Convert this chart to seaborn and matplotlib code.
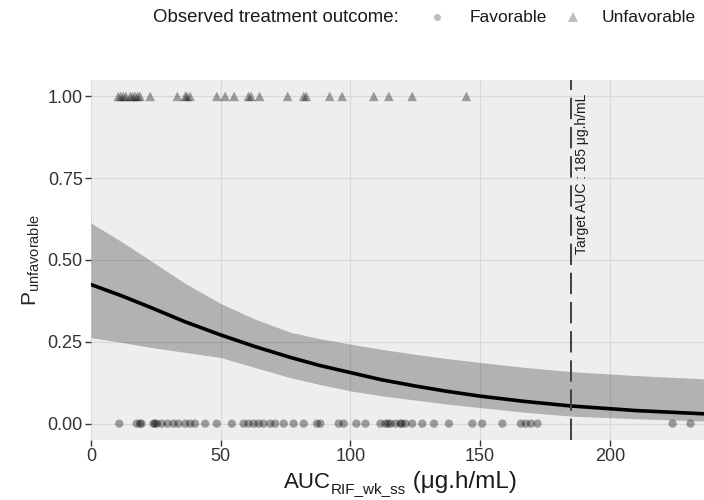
import numpy as np
import pandas as pd
import matplotlib
matplotlib.use("Agg")
import matplotlib.pyplot as plt
from matplotlib.lines import Line2D
import seaborn as sns

# Observed rifampicin exposure (AUC, µg.h/mL) per patient, by outcome
auc_favorable = [10.9, 17.6, 18.9, 19.5, 24.1, 24.6, 25.4, 27.3, 29.5, 31.8,
                 33.7, 36.3, 38.2, 40.1, 44.0, 48.5, 54.3, 58.8, 60.7, 62.7,
                 64.6, 66.5, 69.1, 71.0, 74.3, 78.1, 82.0, 87.1, 88.4, 95.5,
                 97.4, 102.3, 105.8, 111.6, 113.5, 114.5, 115.4, 117.4, 119.3,
                 119.8, 121.2, 123.8, 127.7, 132.2, 138.0, 147.0, 150.8, 158.6,
                 165.7, 167.6, 169.6, 172.1, 224.2, 231.1]
auc_unfavorable = [10.5, 11.5, 12.5, 13.5, 15.1, 16.0, 17.0, 18.0, 18.9, 22.8,
                   33.3, 36.3, 37.0, 38.2, 48.5, 51.7, 55.2, 60.7, 61.7, 65.0,
                   75.8, 82.0, 83.0, 92.0, 96.8, 109.0, 114.8, 123.8, 144.7]

# Predicted probability of an unfavorable outcome and its confidence band
pred_auc = [0, 12, 23, 36, 50, 63, 77, 88, 100, 112, 125, 137, 150, 167, 185, 210, 236.3]
pred_p = [0.425, 0.390, 0.355, 0.312, 0.271, 0.236, 0.202, 0.178, 0.156, 0.134,
          0.115, 0.099, 0.084, 0.068, 0.054, 0.040, 0.030]
pred_lo = [0.263, 0.248, 0.233, 0.218, 0.202, 0.172, 0.140, 0.120, 0.100, 0.085,
           0.072, 0.060, 0.049, 0.035, 0.023, 0.015, 0.008]
pred_hi = [0.613, 0.555, 0.498, 0.430, 0.367, 0.320, 0.279, 0.260, 0.243, 0.227,
           0.212, 0.199, 0.187, 0.172, 0.159, 0.147, 0.137]

target_auc = 185
outcome_labels = ["Favorable", "Unfavorable"]

sns.set_theme(style="white")
plt.rcParams["font.family"] = ["Liberation Sans", "DejaVu Sans"]

fav = pd.DataFrame({"auc": auc_favorable, "p": 0.0})
unfav = pd.DataFrame({"auc": auc_unfavorable, "p": 1.0})

W, H = 704, 500
fig = plt.figure(figsize=(W / 100, H / 100), dpi=100)
ax = fig.add_axes([91 / W, 60 / H, 613 / W, 360 / H])
ax.set_facecolor("#EEEEEE")
for s in ax.spines.values():
    s.set_visible(False)
ax.grid(True, color="#D9D9D9", lw=0.9)
ax.set_axisbelow(True)

ax.fill_between(pred_auc, pred_lo, pred_hi, color="black", alpha=0.25, lw=0, zorder=2)
sns.lineplot(x=pred_auc, y=pred_p, color="black", lw=2.6, ax=ax, zorder=3)

sns.scatterplot(data=fav, x="auc", y="p", marker="o", color="black", alpha=0.35,
                s=36, edgecolor="none", legend=False, ax=ax, zorder=4)
sns.scatterplot(data=unfav, x="auc", y="p", marker="^", color="black", alpha=0.35,
                s=48, edgecolor="none", legend=False, ax=ax, zorder=4)

ax.axvline(target_auc, color="#404040", lw=1.4, dashes=(11, 4), zorder=5)
ax.text(189.3, 0.762, f"Target AUC : {target_auc} μg.h/mL", rotation=90,
        ha="center", va="center", fontsize=10, color="#1A1A1A")

ax.set_xlim(0, 236.3)
ax.set_ylim(-0.05, 1.05)
ax.set_xticks([0, 50, 100, 150, 200])
ax.set_yticks([0, 0.25, 0.5, 0.75, 1.0])
ax.set_yticklabels(["0.00", "0.25", "0.50", "0.75", "1.00"])
ax.tick_params(axis="both", which="major", length=4, width=1, color="#333333",
               labelsize=13, labelcolor="#333333", pad=2, bottom=True, left=True)
ax.set_xlabel("")
ax.set_ylabel(r"P$_{\mathregular{unfavorable}}$", fontsize=15, labelpad=4)

# x-axis title built from pieces: name, subscript, units
renderer = fig.canvas.get_renderer()
pieces = [("AUC", 16, 0), ("RIF_wk_ss", 11, -5), (" (μg.h/mL)", 17.5, 0)]
texts = []
for txt, size, dy in pieces:
    t = fig.text(0, 0, txt, fontsize=size, va="baseline", ha="left", color="#1A1A1A")
    texts.append((t, dy))
widths = [t.get_window_extent(renderer).width for t, _ in texts]
x = 400 - sum(widths) / 2
base = H - 488
for (t, dy), w in zip(texts, widths):
    t.set_position((x / W, (base + dy) / H))
    x += w

# top legend: title, then one key per outcome
legend_y = 1 - 17 / H
fig.text(153 / W, 1 - 18 / H, "Observed treatment outcome:", ha="left",
         va="center", fontsize=13.4, color="#1A1A1A")
keys = [("o", 5, 437, 470), ("^", 6.5, 573, 602)]
for (mk, ms, mx, tx), label in zip(keys, outcome_labels):
    fig.add_artist(Line2D([mx / W], [legend_y], transform=fig.transFigure,
                          ls="none", marker=mk, markersize=ms, color="#BDBDBD",
                          markeredgewidth=0))
    fig.text(tx / W, legend_y, label, ha="left", va="center", fontsize=12.5,
             color="#1A1A1A")

fig.savefig("out.png", dpi=100)
